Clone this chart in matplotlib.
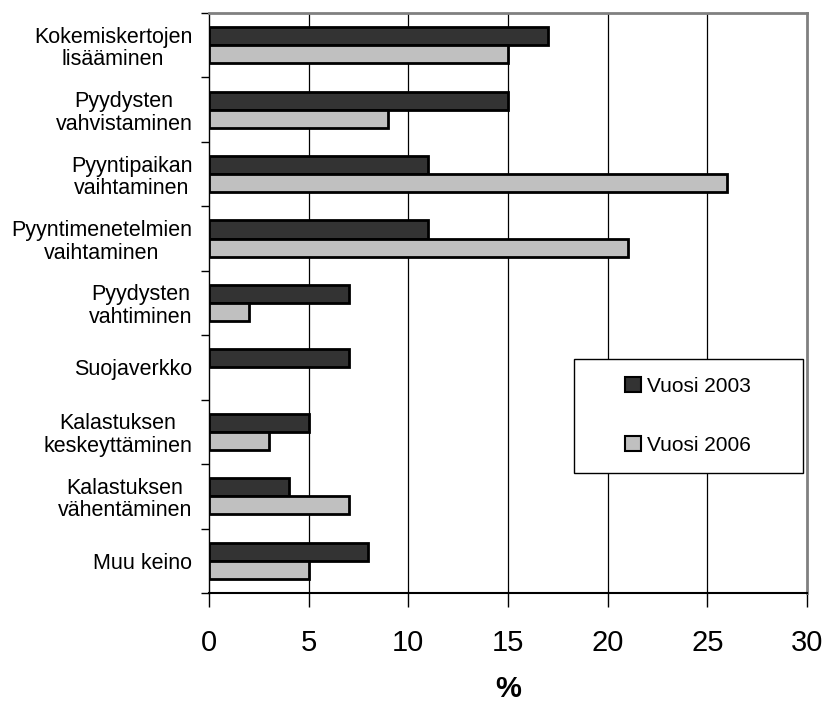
import numpy as np
import matplotlib.pyplot as plt
from matplotlib.patches import Rectangle

plt.rcParams['font.family'] = ['Liberation Sans', 'DejaVu Sans']

# Keinot ylhäältä alas
categories = ["Kokemiskertojen\nlisääminen", "Pyydysten\nvahvistaminen", "Pyyntipaikan\nvaihtaminen",
              "Pyyntimenetelmien\nvaihtaminen", "Pyydysten\nvahtiminen", "Suojaverkko",
              "Kalastuksen\nkeskeyttäminen", "Kalastuksen\nvähentäminen", "Muu keino"]
vuosi_2003 = [17, 15, 11, 11, 7, 7, 5, 4, 8]
vuosi_2006 = [15, 9, 26, 21, 2, 0, 3, 7, 5]
x_ticks = [0, 5, 10, 15, 20, 25, 30]

fig = plt.figure(figsize=(8.27, 7.04), dpi=100)
ax = fig.add_axes([0.2527, 0.1577, 0.7231, 0.8239])

n = len(categories)
centers = np.arange(n) + 0.5
h = 0.28

# Gitterviivat
for v in x_ticks[1:-1]:
    ax.axvline(v, color="black", linewidth=0.9, zorder=1)

ax.barh(centers - h / 2, vuosi_2003, height=h, color="#333333", edgecolor="black",
        linewidth=2, label="Vuosi 2003", zorder=3)
bars06 = [v if v > 0 else np.nan for v in vuosi_2006]
ax.barh(centers + h / 2, bars06, height=h, color="#c0c0c0", edgecolor="black",
        linewidth=2, label="Vuosi 2006", zorder=3)

ax.set_xlim(0, 30)
ax.set_ylim(n, 0)

ax.set_xticks(x_ticks)
ax.set_xticklabels([str(t) for t in x_ticks], fontsize=21)
ax.tick_params(axis="x", length=10, width=1, pad=16, direction="out")

ax.set_yticks(np.arange(n + 1))
ax.set_yticklabels([])
ax.tick_params(axis="y", which="major", length=6, width=1, direction="out")
ax.set_yticks(centers, minor=True)
ax.set_yticklabels(categories, minor=True, fontsize=15.5, multialignment="center",
                   linespacing=1.1)
ax.tick_params(axis="y", which="minor", length=0, pad=12)

ax.spines["left"].set_color("black")
ax.spines["bottom"].set_color("black")
ax.spines["left"].set_linewidth(1)
ax.spines["bottom"].set_linewidth(1.5)
ax.spines["top"].set_color("#808080")
ax.spines["right"].set_color("#808080")
ax.spines["top"].set_linewidth(2)
ax.spines["right"].set_linewidth(2)

ax.set_xlabel("%", fontsize=21, fontweight="bold", labelpad=13)

# Selitelaatikko
box = Rectangle((0.61, 0.207), 0.383, 0.197, transform=ax.transAxes, facecolor="white",
                edgecolor="black", linewidth=1, zorder=4)
ax.add_patch(box)
leg = ax.legend(loc="center", bbox_to_anchor=(0.8015, 0.3055), frameon=False, fontsize=15,
                handlelength=0.75, handleheight=0.75, handletextpad=0.3, labelspacing=1.9)
leg.set_zorder(5)
for p in leg.get_patches():
    p.set_linewidth(1.5)

fig.savefig("out.png", dpi=100)
